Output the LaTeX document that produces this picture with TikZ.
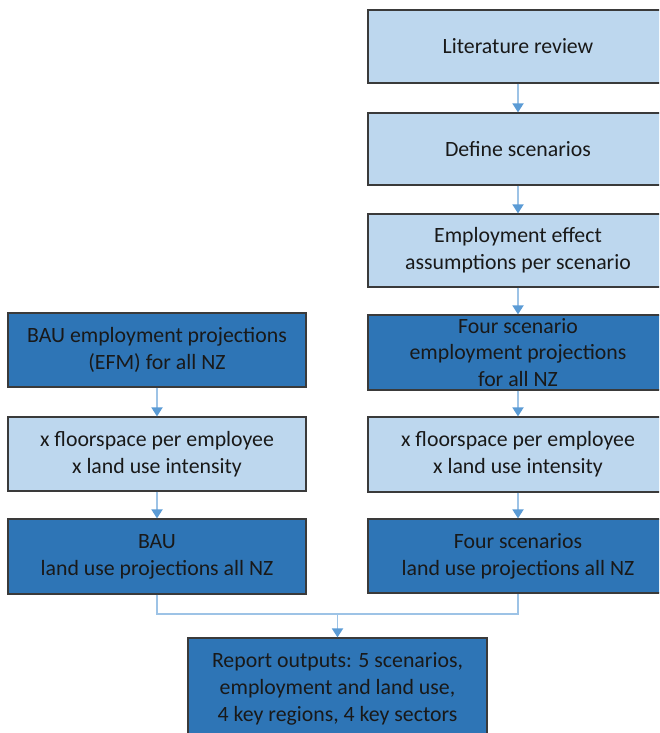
\documentclass[tikz,border=0pt]{standalone}
\usepackage{fontspec}
\setmainfont{Carlito}
\usetikzlibrary{arrows.meta}
\definecolor{lightbox}{HTML}{BDD7EE}
\definecolor{darkbox}{HTML}{2E75B6}
\definecolor{arrowc}{HTML}{5B9BD5}
\definecolor{linec}{HTML}{9DC3E6}
\definecolor{bordc}{HTML}{3A3A3A}
\tikzset{
  box/.style={draw=bordc, line width=1.2pt, rectangle, align=center, inner sep=0pt,
    font=\fontsize{21.8}{26.8}\selectfont, text=black!90},
  lbox/.style={box, fill=lightbox},
  dbox/.style={box, fill=darkbox},
  flow/.style={draw=linec, line width=1.8pt, -{Triangle[length=9pt,width=11pt,color=arrowc]}},
  joinline/.style={draw=linec, line width=1.8pt}
}
\begin{document}
\begin{tikzpicture}[x=1pt,y=-1pt]
\useasboundingbox (0,0) rectangle (659,733);
\clip (0,0) rectangle (659,733);
% right column
\node[lbox, minimum width=300pt, minimum height=73pt] (lit) at (518,46.5) {Literature review};
\node[lbox, minimum width=300pt, minimum height=72pt] (def) at (518,149) {Define scenarios};
\node[lbox, minimum width=300pt, minimum height=73pt] (emp) at (518,250.5) {Employment effect\\assumptions per scenario};
\node[dbox, minimum width=300pt, minimum height=75pt] (four) at (518,352.5) {Four scenario\\employment projections\\for all NZ};
\node[lbox, minimum width=300pt, minimum height=75pt] (xfr) at (518,454.5) {x floorspace per employee\\x land use intensity};
\node[dbox, minimum width=300pt, minimum height=74pt] (fsl) at (518,556) {Four scenarios\\land use projections all NZ};
% left column
\node[dbox, minimum width=298pt, minimum height=74pt] (bau) at (157,350) {BAU employment projections\\(EFM) for all NZ};
\node[lbox, minimum width=298pt, minimum height=74pt] (xfl) at (157,454) {x floorspace per employee\\x land use intensity};
\node[dbox, minimum width=298pt, minimum height=75pt] (baul) at (157,556.5) {BAU\\land use projections all NZ};
% report
\node[dbox, minimum width=299pt, minimum height=102pt] (rep) at (337.5,689) {Report outputs: 5 scenarios,\\employment and land use,\\4 key regions, 4 key sectors};
% arrows
\draw[flow] (lit) -- (def);
\draw[flow] (def) -- (emp);
\draw[flow] (emp) -- (four);
\draw[flow] (four) -- (xfr);
\draw[flow] (xfr) -- (fsl);
\draw[flow] (bau) -- (xfl);
\draw[flow] (xfl) -- (baul);
\coordinate (jl) at (157,614);
\coordinate (jr) at (518,614);
\coordinate (jm) at (337.5,614);
\draw[joinline] (baul.south) -- (jl) -- (jr) -- (fsl.south);
\draw[flow] (jm) -- (rep.north);
\end{tikzpicture}
\end{document}
